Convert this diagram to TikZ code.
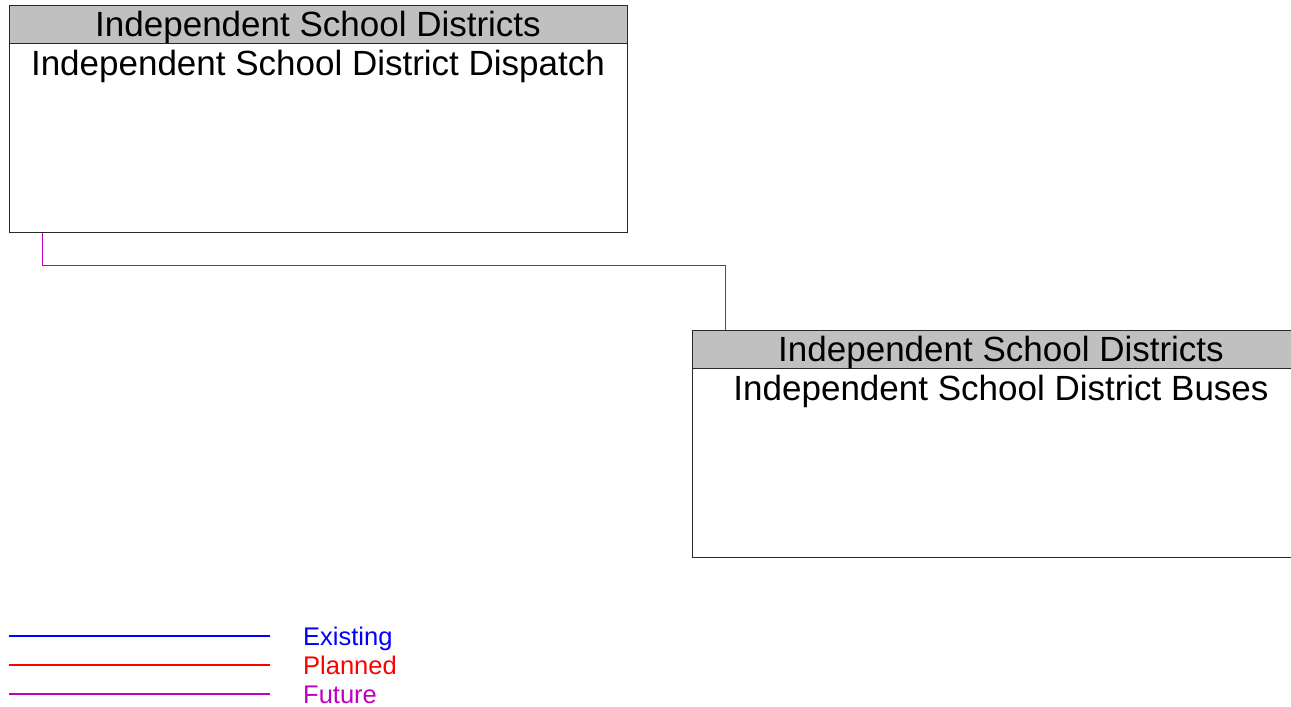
\documentclass[tikz,border=0pt]{standalone}
\usepackage{fontspec}
\setmainfont{Liberation Sans}
\definecolor{hdrgray}{RGB}{192,192,192}
\definecolor{boxline}{RGB}{40,40,40}
\definecolor{legblue}{RGB}{0,0,255}
\definecolor{legred}{RGB}{255,0,0}
\definecolor{legpurple}{RGB}{192,0,192}
\tikzset{
  hdr/.style={draw=boxline, fill=hdrgray, line width=1pt, minimum width=618pt, minimum height=38pt, inner sep=0pt, anchor=north west},
  bodybox/.style={draw=boxline, fill=white, line width=1pt, minimum width=618pt, minimum height=189pt, inner sep=0pt, anchor=north west},
  bigtxt/.style={font=\fontsize{35}{42}\selectfont, inner sep=0pt, anchor=base},
  legtxt/.style={font=\fontsize{25.5}{30}\selectfont, inner sep=0pt, anchor=base west},
  future/.style={draw=legpurple, line width=1pt},
  legline/.style={line width=1.2pt}
}
\begin{document}
\begin{tikzpicture}[x=1pt,y=-1pt]
\useasboundingbox (0,0) rectangle (1291,707);
% box 1
\node[bodybox] (b1) at (9,43) {};
\node[hdr] (h1) at (9,5) {};
\node[bigtxt] (h1t) at (318,36) {Independent School Districts};
\node[bigtxt] (b1t) at (318,75) {Independent School District Dispatch};
% box 2
\node[bodybox] (b2) at (692,368) {};
\node[hdr] (h2) at (692,330) {};
\node[bigtxt] (h2t) at (1001,361) {Independent School Districts};
\node[bigtxt] (b2t) at (1001,400) {Independent School District Buses};
% connector
\draw[future] ([xshift=33pt]b1.south west) -- ++(0,32) -| ([xshift=33pt]h2.north west);
% legend
\coordinate (l1a) at (9,636); \coordinate (l1b) at (270,636);
\coordinate (l2a) at (9,665); \coordinate (l2b) at (270,665);
\coordinate (l3a) at (9,694); \coordinate (l3b) at (270,694);
\draw[legline, legred] (l2a) -- (l2b);
\draw[legline, legblue] (l1a) -- (l1b);
\draw[legline, legpurple] (l3a) -- (l3b);
\node[legtxt, text=legblue] (lt1) at (303,645) {Existing};
\node[legtxt, text=legred] (lt2) at (303,674) {Planned};
\node[legtxt, text=legpurple] (lt3) at (303,703) {Future};
\end{tikzpicture}
\end{document}
